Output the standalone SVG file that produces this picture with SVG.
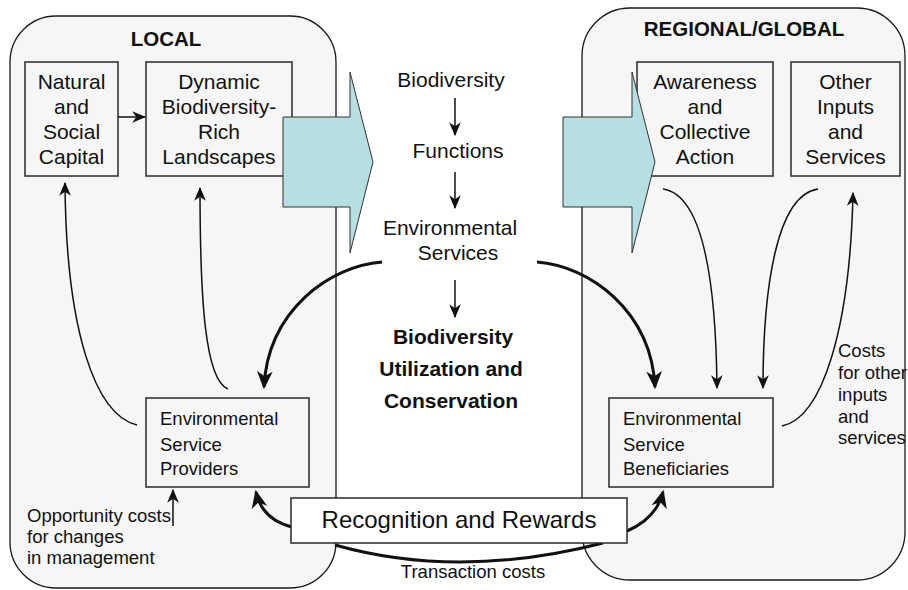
<svg xmlns="http://www.w3.org/2000/svg" width="908" height="590" viewBox="0 0 908 590">
  <style>
    .zone { fill: #f6f6f6; stroke: #1a1a1a; stroke-width: 1.3; }
    .box { fill: none; stroke: #2a2a2a; stroke-width: 1.5; }
    .boxw { fill: #ffffff; stroke: #2a2a2a; stroke-width: 1.5; }
    .big { fill: #b5dfe2; stroke: #333333; stroke-width: 1; }
    text { font-family: "Liberation Sans", Arial, sans-serif; fill: #111111; }
    .t21 { font-size: 21px; }
    .t18 { font-size: 18.5px; }
    .hd { font-size: 20.5px; font-weight: bold; }
    .mid { font-size: 21px; text-anchor: middle; }
    .midb { font-size: 21px; font-weight: bold; text-anchor: middle; }
    .c { text-anchor: middle; }
    .thin { fill: none; stroke: #111111; stroke-width: 1.5; marker-end: url(#ah); }
    .bold { fill: none; stroke: #111111; stroke-width: 3; marker-end: url(#ahb); }
    .plain { fill: none; stroke: #111111; stroke-width: 3; }
  </style>
  <defs>
    <marker id="ah" markerUnits="userSpaceOnUse" markerWidth="14" markerHeight="14" viewBox="0 0 12 12" refX="11" refY="6" orient="auto">
      <path d="M0,1 L12,6 L0,11 L3.5,6 z" fill="#111111"/>
    </marker>
    <marker id="ahb" markerUnits="userSpaceOnUse" markerWidth="18" markerHeight="18" viewBox="0 0 16 16" refX="14" refY="8" orient="auto">
      <path d="M0,1 L16,8 L0,15 L4.5,8 z" fill="#111111"/>
    </marker>
  </defs>

  <rect width="908" height="590" fill="#ffffff"/>

  <!-- LOCAL container -->
  <g id="local">
    <rect class="zone" x="10" y="16" width="326" height="572" rx="46" ry="46"/>
    <text class="hd c" x="166" y="46">LOCAL</text>
  </g>

  <!-- REGIONAL/GLOBAL container -->
  <g id="regional">
    <rect class="zone" x="582" y="8" width="323" height="572" rx="48" ry="48"/>
    <text class="hd c" x="744" y="36">REGIONAL/GLOBAL</text>
  </g>

  <g id="natural-capital">
    <rect class="box" x="25" y="62" width="93" height="114"/>
    <text class="t21 c" x="71.5" y="89">Natural</text>
    <text class="t21 c" x="71.5" y="114">and</text>
    <text class="t21 c" x="71.5" y="139">Social</text>
    <text class="t21 c" x="71.5" y="164">Capital</text>
  </g>

  <g id="landscapes">
    <rect class="box" x="146" y="62" width="146" height="114"/>
    <text class="t21 c" x="219" y="89">Dynamic</text>
    <text class="t21 c" x="219" y="114">Biodiversity-</text>
    <text class="t21 c" x="219" y="139">Rich</text>
    <text class="t21 c" x="219" y="164">Landscapes</text>
  </g>

  <g id="awareness">
    <rect class="box" x="637" y="62" width="136" height="114"/>
    <text class="t21 c" x="705" y="89">Awareness</text>
    <text class="t21 c" x="705" y="114">and</text>
    <text class="t21 c" x="705" y="139">Collective</text>
    <text class="t21 c" x="705" y="164">Action</text>
  </g>

  <g id="other-inputs">
    <rect class="box" x="791" y="62" width="109" height="114"/>
    <text class="t21 c" x="845.5" y="89">Other</text>
    <text class="t21 c" x="845.5" y="114">Inputs</text>
    <text class="t21 c" x="845.5" y="139">and</text>
    <text class="t21 c" x="845.5" y="164">Services</text>
  </g>

  <!-- broad flow arrows -->
  <g id="flow-left">
    <path class="big" d="M283,117 H350 V72 L373,162 L350,253 V207 H283 Z"/>
  </g>
  <g id="flow-right">
    <path class="big" d="M563,117 H632 V72 L655,162 L632,253 V207 H563 Z"/>
  </g>

  <!-- central chain -->
  <g id="chain">
    <text class="mid" x="451" y="87">Biodiversity</text>
    <text class="mid" x="458" y="158">Functions</text>
    <text class="mid" x="450" y="235">Environmental</text>
    <text class="mid" x="458" y="260">Services</text>
    <text class="midb" x="453" y="344">Biodiversity</text>
    <text class="midb" x="451" y="376">Utilization and</text>
    <text class="midb" x="451" y="408">Conservation</text>
  </g>

  <g id="providers">
    <rect class="box" x="146" y="398" width="163" height="89"/>
    <text class="t18" x="160" y="425">Environmental</text>
    <text class="t18" x="160" y="451">Service</text>
    <text class="t18" x="160" y="475">Providers</text>
  </g>

  <g id="beneficiaries">
    <rect class="box" x="609" y="398" width="164" height="89"/>
    <text class="t18" x="623" y="425">Environmental</text>
    <text class="t18" x="623" y="451">Service</text>
    <text class="t18" x="623" y="475">Beneficiaries</text>
  </g>

  <g id="opportunity-costs">
    <text class="t18" x="27" y="522">Opportunity costs</text>
    <text class="t18" x="27" y="543">for changes</text>
    <text class="t18" x="27" y="564">in management</text>
  </g>

  <g id="other-costs">
    <text class="t18" x="838" y="357">Costs</text>
    <text class="t18" x="838" y="379">for other</text>
    <text class="t18" x="838" y="401">inputs</text>
    <text class="t18" x="838" y="423">and</text>
    <text class="t18" x="838" y="444">services</text>
  </g>

  <!-- connectors -->
  <g id="connectors">
    <path class="thin" d="M118,117 H145"/>
    <path class="thin" d="M455,98 V135"/>
    <path class="thin" d="M455,172 V208"/>
    <path class="thin" d="M455,280 V317"/>
    <path class="bold" d="M382,262 C330,266 268,310 264,387"/>
    <path class="bold" d="M537,262 C589,266 651,310 655,387"/>
    <path class="thin" d="M137,425 C95,415 66,330 65,183"/>
    <path class="thin" d="M228,389 C205,380 200,300 200,188"/>
    <path class="thin" d="M663,189 C705,195 716,290 717,388"/>
    <path class="thin" d="M818,189 C776,195 763,290 763,388"/>
    <path class="thin" d="M782,426 C822,418 850,330 853,193"/>
    <path class="thin" d="M173,526 V490"/>
    <path class="plain" d="M335,545 Q459,580 603,543"/>
    <path class="bold" d="M292,527 C272,522 260,510 256,492"/>
    <path class="bold" d="M627,531 C648,522 659,508 663,492"/>
  </g>

  <g id="rewards">
    <rect class="boxw" x="291" y="498" width="336" height="45"/>
    <text class="c" x="459" y="528" style="font-size:24px">Recognition and Rewards</text>
  </g>

  <g id="transaction-costs">
    <text class="t18 c" x="473" y="578">Transaction costs</text>
  </g>
</svg>
